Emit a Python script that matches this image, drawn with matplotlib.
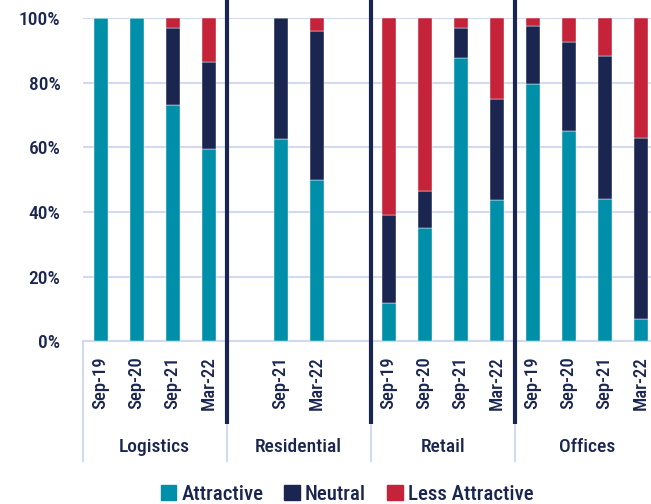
import matplotlib
matplotlib.use("Agg")
import matplotlib.pyplot as plt
from matplotlib.patches import Patch
from matplotlib import font_manager as fm
import numpy as np

# ---- data ----
tick_labels = ["Sep-19", "Sep-20", "Sep-21", "Mar-22",
               "", "Sep-21", "Mar-22", "",
               "Sep-19", "Sep-20", "Sep-21", "Mar-22",
               "Sep-19", "Sep-20", "Sep-21", "Mar-22"]
groups = ["Logistics", "Residential", "Retail", "Offices"]
attractive = [100, 100, 73, 59.5,
              0, 62.5, 50, 0,
              12, 35, 87.5, 43.75,
              79.5, 65, 44, 7]
neutral = [0, 0, 24, 27,
           0, 37.5, 46, 0,
           27, 11.5, 9.3, 31.25,
           18, 27.5, 44.3, 56]
less_attractive = [0, 0, 3, 13.5,
                   0, 0, 4, 0,
                   61, 53.5, 3.2, 25,
                   2.5, 7.5, 11.7, 37]
has_bar = [1, 1, 1, 1, 0, 1, 1, 0, 1, 1, 1, 1, 1, 1, 1, 1]

TEAL = "#008FA8"
NAVY = "#1B2650"
RED = "#C42339"
GRID = "#D3DAEF"
TXT = "#1B2650"

# choose a narrow font if one is installed
cands = []
for f in fm.fontManager.ttflist:
    st = str(f.stretch).lower()
    if ('narrow' in f.name.lower() or 'condensed' in f.name.lower()
            or st in ('condensed', 'semi-condensed', 'extra-condensed', '500', '300', '400')
            or (isinstance(f.stretch, int) and f.stretch < 500)):
        cands.append(f)
chosen = None
for pref in ['Liberation Sans Narrow', 'Roboto Condensed', 'Open Sans Condensed', 'DejaVu Sans']:
    for f in cands:
        if f.name == pref:
            chosen = f
            break
    if chosen:
        break
if chosen is None and cands:
    chosen = cands[0]
if chosen is not None:
    plt.rcParams['font.family'] = [chosen.name, 'DejaVu Sans']
    plt.rcParams['font.stretch'] = chosen.stretch
else:
    plt.rcParams['font.family'] = ['DejaVu Sans']
plt.rcParams['font.weight'] = 'medium'

fig = plt.figure(figsize=(6.51, 5.04), dpi=100)
ax = fig.add_axes([82.7 / 651, (504 - 341.3) / 504, 576 / 651, 323.3 / 504])

x = np.arange(len(tick_labels))
idx = [i for i in x if has_bar[i]]
a = np.array(attractive)
n = np.array(neutral)
l = np.array(less_attractive)
w = 14 / 36
ax.bar(idx, a[idx], width=w, color=TEAL, zorder=3, edgecolor="white", linewidth=0.3)
ax.bar(idx, n[idx], width=w, bottom=a[idx], color=NAVY, zorder=3, edgecolor="white", linewidth=0.3)
ax.bar(idx, l[idx], width=w, bottom=(a + n)[idx], color=RED, zorder=3, edgecolor="white", linewidth=0.3)

ax.set_xlim(-0.5, 15.5)
ax.set_ylim(0, 100)
ax.set_yticks(np.arange(0, 101, 20))
ax.set_yticklabels([f"{v}%" for v in range(0, 101, 20)])
ax.yaxis.grid(True, color=GRID, linewidth=1.5, zorder=0)
ax.set_axisbelow(True)
for s in ["top", "right", "left"]:
    ax.spines[s].set_visible(False)
ax.spines["bottom"].set_color(GRID)
ax.spines["bottom"].set_linewidth(1.5)

ax.set_xticks(x)
ax.set_xticklabels(tick_labels, rotation=90, va="top", ha="center")
ax.tick_params(axis="x", length=0, pad=11, labelsize=13.5, labelcolor=TXT)
ax.tick_params(axis="y", length=0, pad=16, labelsize=14, labelcolor=TXT)

trans = ax.get_xaxis_transform()
for b in [-0.5, 3.5, 7.5, 11.5, 15.5]:
    ax.plot([b, b], [0, -0.37], transform=trans, color=GRID, linewidth=1.5,
            clip_on=False, zorder=1)
for b in [3.5, 7.5, 11.5]:
    ax.plot([b, b], [1.06, -0.256], transform=trans, color=NAVY, linewidth=3,
            clip_on=False, zorder=5, solid_capstyle="butt")

for gi, g in enumerate(groups):
    ax.text(gi * 4 + 1.5, -0.326, g, transform=trans, ha="center", va="center",
            fontsize=14, color=TXT)

handles = [Patch(color=TEAL), Patch(color=NAVY), Patch(color=RED)]
fig.legend(handles, ["Attractive", "Neutral", "Less Attractive"],
           loc="center", bbox_to_anchor=(347 / 651, 1 - 494 / 504), ncol=3,
           frameon=False, fontsize=15, handlelength=0.75, handleheight=0.75,
           handletextpad=0.25, columnspacing=1.0, labelcolor=TXT)

fig.savefig("out.png", dpi=100)
